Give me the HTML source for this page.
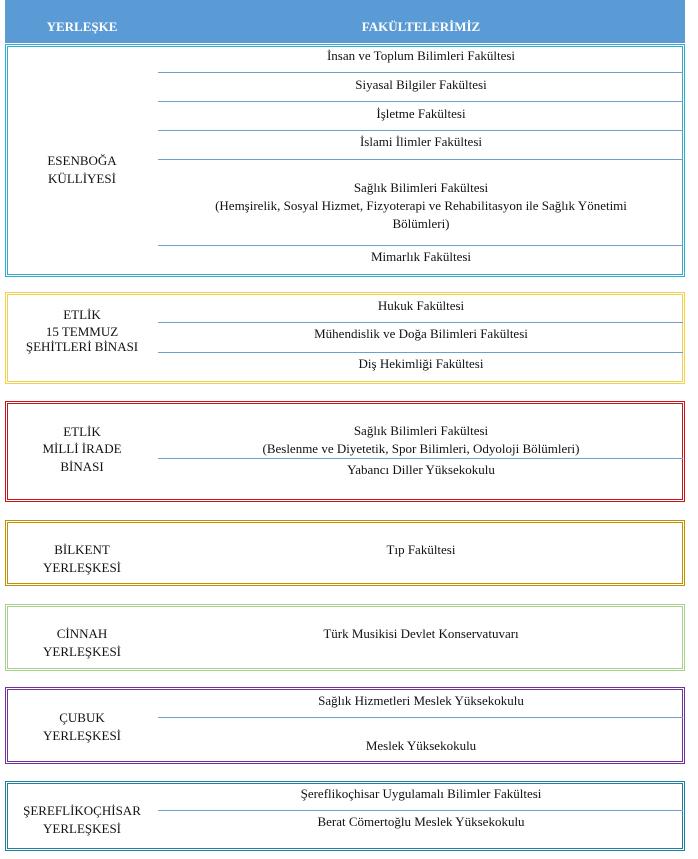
<!DOCTYPE html>
<html><head><meta charset="utf-8"><style>
body{margin:0;width:698px;height:854px;background:#fff;overflow:hidden}
text{font-family:"Liberation Serif","Times New Roman",serif;font-size:13px;fill:#111;text-anchor:middle}
.h{fill:#fff;font-weight:bold}
</style></head><body>
<svg width="698" height="854" viewBox="0 0 698 854" xmlns="http://www.w3.org/2000/svg">
<rect x="5" y="0" width="680" height="43" fill="#5b9bd5"/>
<text class="h" x="82" y="31">YERLEŞKE</text>
<text class="h" x="421" y="31">FAKÜLTELERİMİZ</text>
<g fill="none" stroke-width="1">
<g stroke="#2eaed0"><rect x="5.5" y="44.5" width="679" height="232"/><rect x="7.5" y="46.5" width="675" height="228"/></g>
<g stroke="#f2d24a"><rect x="5.5" y="292.5" width="679" height="91"/><rect x="7.5" y="294.5" width="675" height="87"/></g>
<g stroke="#c8141c"><rect x="5.5" y="401.5" width="679" height="100"/><rect x="7.5" y="403.5" width="675" height="96"/></g>
<g stroke="#bf9000"><rect x="5.5" y="520.5" width="679" height="65"/><rect x="7.5" y="522.5" width="675" height="61"/></g>
<g stroke="#a9d18e"><rect x="5.5" y="604.5" width="679" height="66"/><rect x="7.5" y="606.5" width="675" height="62"/></g>
<g stroke="#7030a0"><rect x="5.5" y="687.5" width="679" height="76"/><rect x="7.5" y="689.5" width="675" height="72"/></g>
<g stroke="#1f7f9f"><rect x="5.5" y="781.5" width="679" height="69"/><rect x="7.5" y="783.5" width="675" height="65"/></g>
<g stroke="#6fa0cc">
<line x1="158" x2="683" y1="72.5" y2="72.5"/><line x1="158" x2="683" y1="101.5" y2="101.5"/><line x1="158" x2="683" y1="130.5" y2="130.5"/><line x1="158" x2="683" y1="159.5" y2="159.5"/><line x1="158" x2="683" y1="245.5" y2="245.5"/>
<line x1="158" x2="683" y1="322.5" y2="322.5"/><line x1="158" x2="683" y1="352.5" y2="352.5"/>
<line x1="158" x2="683" y1="458.5" y2="458.5"/>
<line x1="158" x2="683" y1="717.5" y2="717.5"/>
<line x1="158" x2="683" y1="810.5" y2="810.5"/>
</g></g>
<g>
<text x="421" y="60">İnsan ve Toplum Bilimleri Fakültesi</text>
<text x="421" y="89">Siyasal Bilgiler Fakültesi</text>
<text x="421" y="118">İşletme Fakültesi</text>
<text x="421" y="146">İslami İlimler Fakültesi</text>
<text x="421" y="192">Sağlık Bilimleri Fakültesi</text>
<text x="421" y="210">(Hemşirelik, Sosyal Hizmet, Fizyoterapi ve Rehabilitasyon ile Sağlık Yönetimi</text>
<text x="421" y="228">Bölümleri)</text>
<text x="421" y="261">Mimarlık Fakültesi</text>
<text x="82" y="165">ESENBOĞA</text>
<text x="82" y="183">KÜLLİYESİ</text>

<text x="421" y="310">Hukuk Fakültesi</text>
<text x="421" y="338">Mühendislik ve Doğa Bilimleri Fakültesi</text>
<text x="421" y="368">Diş Hekimliği Fakültesi</text>
<text x="82" y="319">ETLİK</text>
<text x="82" y="336">15 TEMMUZ</text>
<text x="82" y="351">ŞEHİTLERİ BİNASI</text>

<text x="421" y="435">Sağlık Bilimleri Fakültesi</text>
<text x="421" y="453">(Beslenme ve Diyetetik, Spor Bilimleri, Odyoloji Bölümleri)</text>
<text x="421" y="474">Yabancı Diller Yüksekokulu</text>
<text x="82" y="436">ETLİK</text>
<text x="82" y="453">MİLLİ İRADE</text>
<text x="82" y="471">BİNASI</text>

<text x="421" y="554">Tıp Fakültesi</text>
<text x="82" y="554">BİLKENT</text>
<text x="82" y="572">YERLEŞKESİ</text>

<text x="421" y="638">Türk Musikisi Devlet Konservatuvarı</text>
<text x="82" y="638">CİNNAH</text>
<text x="82" y="656">YERLEŞKESİ</text>

<text x="421" y="705">Sağlık Hizmetleri Meslek Yüksekokulu</text>
<text x="421" y="750">Meslek Yüksekokulu</text>
<text x="82" y="722">ÇUBUK</text>
<text x="82" y="740">YERLEŞKESİ</text>

<text x="421" y="798">Şereflikoçhisar Uygulamalı Bilimler Fakültesi</text>
<text x="421" y="826">Berat Cömertoğlu Meslek Yüksekokulu</text>
<text x="82" y="815">ŞEREFLİKOÇHİSAR</text>
<text x="82" y="833">YERLEŞKESİ</text>
</g>
</svg>
</body></html>
